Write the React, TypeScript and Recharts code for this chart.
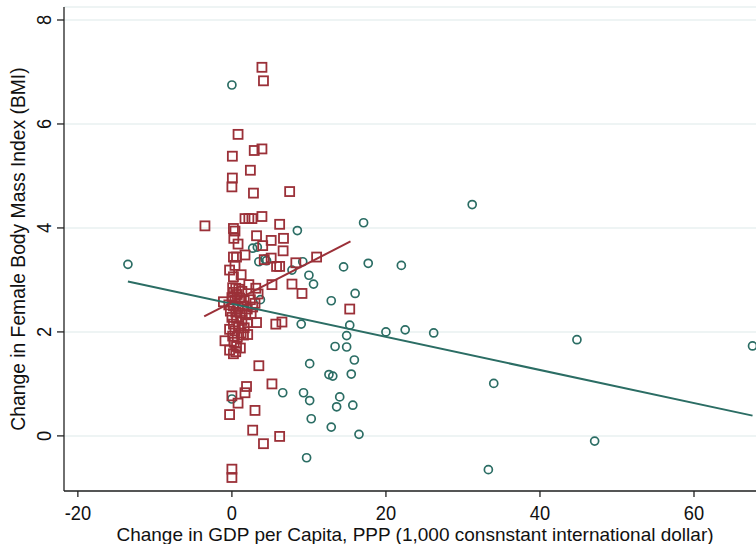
import { ScatterChart, Scatter, XAxis, YAxis, CartesianGrid } from "recharts";

// Countries with a circle marker (teal)
const tealGdp = [
  -13.5, 0.0, 8.5, 17.1, 31.2, 2.7, 3.3, 3.5, 4.3, 4.5, 9.2, 14.5, 17.7, 22.0,
  7.8, 10.0, 10.6, 16.0, 12.9, 3.7, 9.0, 15.3, 14.9, 20.0, 22.5, 26.2, 44.8,
  67.6, 13.4, 14.9, 10.1, 15.9, 12.6, 13.1, 15.5, 34.0, 6.6, 9.3, 14.0, 10.1,
  13.6, 15.7, 10.3, 12.9, 16.5, 9.7, 47.1, 33.3, 0.0,
];
const tealBmi = [
  3.3, 6.75, 3.95, 4.1, 4.45, 3.61, 3.63, 3.35, 3.4, 3.37, 3.35, 3.25, 3.32,
  3.28, 3.19, 3.09, 2.92, 2.74, 2.6, 2.62, 2.15, 2.13, 1.93, 2.0, 2.04, 1.98,
  1.85, 1.73, 1.72, 1.71, 1.39, 1.46, 1.18, 1.15, 1.19, 1.01, 0.83, 0.83, 0.75,
  0.68, 0.56, 0.59, 0.33, 0.17, 0.03, -0.42, -0.1, -0.65, 0.71,
];

// Countries with a square marker (red)
const redGdp = [
  3.9, 4.1, 0.8, 0.06, 3.9, 2.9, 2.4, 0.06, 0.0, 2.8, 7.5, -3.5, 1.7, 2.2, 2.6,
  3.9, 6.2, 0.2, 0.4, 3.2, 6.7, 0.25, 0.8, 5.1, 4.0, 6.65, 1.7, 0.2, 0.6, 5.1,
  4.2, 11.0, 8.3, 0.4, 5.8, 6.2, -0.3, 1.2, 0.2, 2.2, 7.8, 5.2, 9.1, 3.1, 3.4,
  -1.1, 15.3, 5.7, 6.5, 3.2, 2.05, 2.05, 1.1, -0.9, 0.2, -0.3, 3.5, 5.2, 1.9,
  1.7, 0.0, 0.8, 3.0, -0.3, 2.7, 6.2, 4.1, 0.0, 0.0,
  0.1, 0.5, 0.9, 0.2, 0.7, 1.3, 0.0, 0.4, 1.0, 1.6, 2.4, 3.0, 2.7, -0.4, 0.2,
  0.8, 1.4, 2.0, -0.2, 0.5, 1.1, 1.8, 2.5, 0.0, 0.6, 1.3, 0.2, 0.9, 1.6, -0.3,
  0.4, 1.2, 0.1, 0.7, 1.5, 0.3, 0.6, 0.5,
];
const redBmi = [
  7.09, 6.83, 5.8, 5.38, 5.52, 5.49, 5.11, 4.96, 4.79, 4.67, 4.7, 4.04, 4.18,
  4.18, 4.18, 4.22, 4.07, 3.99, 3.94, 3.85, 3.8, 3.8, 3.69, 3.76, 3.66, 3.56,
  3.48, 3.44, 3.44, 3.42, 3.39, 3.44, 3.33, 3.28, 3.26, 3.26, 3.19, 3.1, 3.06,
  2.91, 2.92, 2.91, 2.74, 2.84, 2.73, 2.58, 2.44, 2.15, 2.19, 2.18, 2.18, 1.95,
  1.69, 1.83, 1.58, 1.65, 1.35, 1.0, 0.95, 0.83, 0.77, 0.63, 0.49, 0.41, 0.11,
  -0.01, -0.15, -0.64, -0.8,
  2.85, 2.84, 2.82, 2.76, 2.72, 2.78, 2.66, 2.62, 2.65, 2.6, 2.62, 2.55, 2.48,
  2.52, 2.5, 2.47, 2.5, 2.44, 2.4, 2.38, 2.36, 2.33, 2.35, 2.28, 2.26, 2.22,
  2.15, 2.12, 2.08, 2.05, 2.02, 1.98, 1.92, 1.9, 1.94, 1.8, 1.72, 1.62,
];

// Fitted lines, end points
const tealFitGdp = [-13.5, 67.6];
const tealFitBmi = [2.97, 0.39];
const redFitGdp = [-3.6, 15.4];
const redFitBmi = [2.3, 3.74];

const xTicks = [-20, 0, 20, 40, 60];
const yTicks = [0, 2, 4, 6, 8];

const toPoints = (xs: number[], ys: number[]) => xs.map((x, i) => ({ x, y: ys[i] }));

const tealData = toPoints(tealGdp, tealBmi);
const redData = toPoints(redGdp, redBmi);
const tealFit = toPoints(tealFitGdp, tealFitBmi);
const redFit = toPoints(redFitGdp, redFitBmi);

const TEAL = "#2b6d64";
const RED = "#9b3038";
const FONT = "'Liberation Sans', Arial, Helvetica, sans-serif";

const Circle = (p: any) => (
  <circle cx={p.cx} cy={p.cy} r={4} fill="none" stroke={TEAL} strokeWidth={1.7} />
);
const Square = (p: any) => (
  <rect x={p.cx - 4.5} y={p.cy - 4.5} width={9} height={9} fill="none" stroke={RED} strokeWidth={1.8} />
);
const NoDot = () => <g />;

// tick numbers are a bit narrow in the original, so squeeze them along the text
const XTick = ({ x, y, payload }: any) => (
  <g transform={`translate(${x} ${y}) scale(0.87 1)`}>
    <text x={0} y={0} dy="0.71em" textAnchor="middle" fontFamily={FONT} fontSize={21} fill="#111">
      {payload.value}
    </text>
  </g>
);

const YTick = ({ x, y, payload }: any) => (
  <g transform={`translate(${x} ${y}) rotate(-90) scale(0.87 1)`}>
    <text x={0} y={0} textAnchor="middle" fontFamily={FONT} fontSize={21} fill="#111">
      {payload.value}
    </text>
  </g>
);

const YTitle = ({ viewBox }: any) => {
  const cx = viewBox.x + 25;
  const cy = viewBox.y + viewBox.height / 2;
  return (
    <text x={cx} y={cy} transform={`rotate(-90, ${cx}, ${cy})`} textAnchor="middle"
      fontFamily={FONT} fontSize={19.3} fill="#111">
      Change in Female Body Mass Index (BMI)
    </text>
  );
};

const XTitle = ({ viewBox }: any) => (
  <text x={viewBox.x + viewBox.width / 2 + 5} y={541} textAnchor="middle"
    fontFamily={FONT} fontSize={19} fill="#111">
    Change in GDP per Capita, PPP (1,000 consnstant international dollar)
  </text>
);

export default function App() {
  return (
    <div style={{ position: "absolute", left: 0, top: 0, background: "#fff" }}>
      <ScatterChart width={756} height={544} margin={{ top: 7, right: 0, bottom: 0, left: 0 }}>
        <CartesianGrid vertical={false} stroke="#e8f0f1" strokeWidth={1.5} />
        <XAxis
          type="number"
          dataKey="x"
          domain={[-21.8, 68.05]}
          ticks={xTicks}
          height={53}
          tickSize={6}
          tickMargin={8}
          axisLine={{ stroke: "#222", strokeWidth: 1.3 }}
          tickLine={{ stroke: "#222", strokeWidth: 1.3 }}
          tick={<XTick />}
          label={<XTitle />}
          allowDataOverflow
        />
        <YAxis
          type="number"
          dataKey="y"
          domain={[-1.06, 8.25]}
          ticks={yTicks}
          width={64}
          tickSize={7}
          tickMargin={6}
          axisLine={{ stroke: "#222", strokeWidth: 1.3 }}
          tickLine={{ stroke: "#222", strokeWidth: 1.3 }}
          tick={<YTick />}
          label={<YTitle />}
          allowDataOverflow
        />
        <Scatter data={tealData} shape={Circle} isAnimationActive={false} />
        <Scatter data={redData} shape={Square} isAnimationActive={false} />
        <Scatter data={tealFit} shape={NoDot} line={{ stroke: TEAL, strokeWidth: 2 }} isAnimationActive={false} />
        <Scatter data={redFit} shape={NoDot} line={{ stroke: RED, strokeWidth: 2 }} isAnimationActive={false} />
      </ScatterChart>
    </div>
  );
}
